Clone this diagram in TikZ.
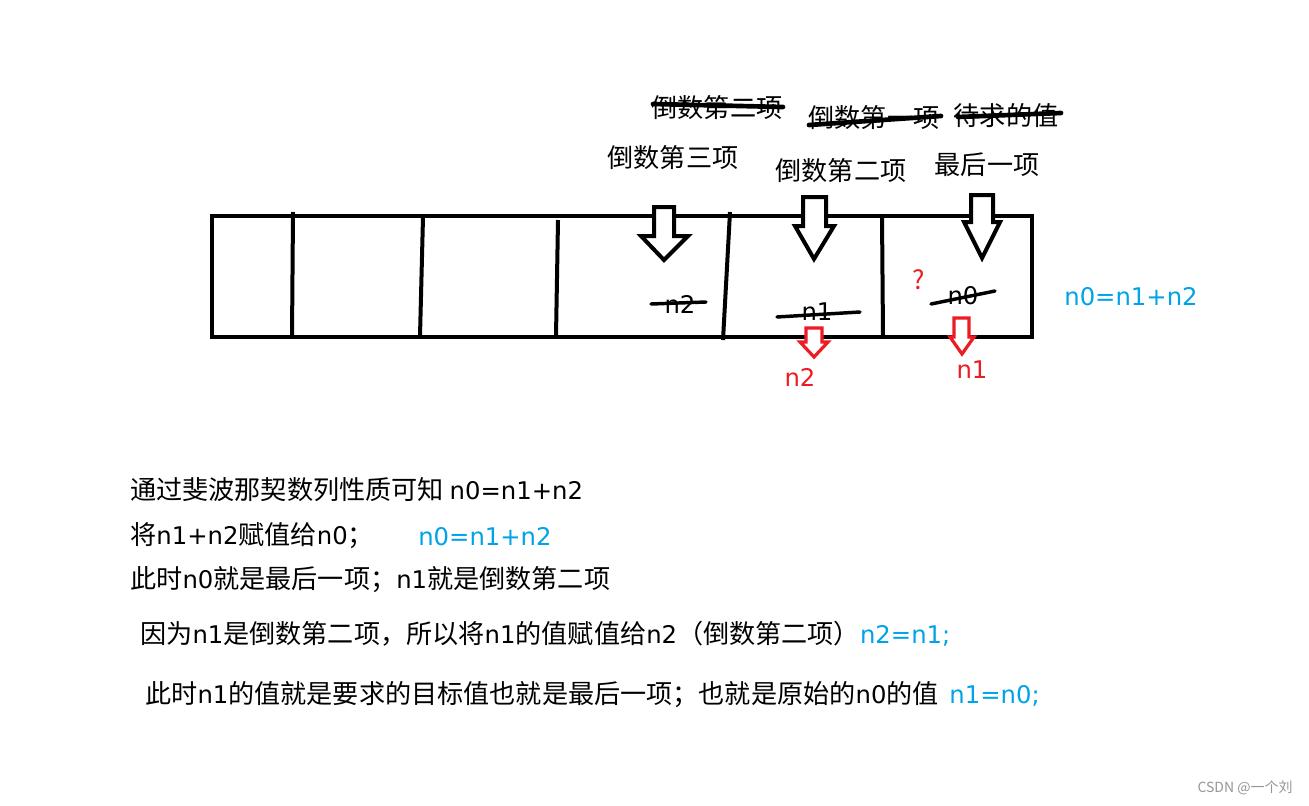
\documentclass[tikz,border=0pt]{standalone}
\usepackage{fontspec}
\setmainfont{Noto Sans CJK SC}
\newfontfamily\latfont{DejaVu Sans}[Scale=0.93]
\newcommand\latn[1]{{\latfont #1}}
\definecolor{pblue}{RGB}{0,162,232}
\definecolor{pred}{RGB}{237,28,36}
\definecolor{wgray}{RGB}{150,150,150}
\tikzset{
  px/.style={x=0.75pt,y=-0.75pt},
  lbl/.style={inner sep=0pt,font=\fontsize{19.6pt}{22pt}\selectfont},
  txt/.style={lbl,anchor=west},
  frame/.style={draw=black,line width=3pt},
  divider/.style={draw=black,line width=3pt},
  blockarrow/.style={draw=black,line width=3pt,line join=miter,fill=white},
  redarrow/.style={draw=pred,line width=2.4pt,line join=miter,fill=white},
  strike/.style={draw=black,line width=3.5pt,line cap=round},
  thinstrike/.style={draw=black,line width=2.6pt,line cap=round},
}
\begin{document}
\begin{tikzpicture}[px]
\useasboundingbox (0,0) rectangle (1309,806);
% array box
\draw[frame] (212,216) rectangle (1032,337);
\draw[divider] (293,212) -- (292,336);
\draw[divider] (423,217) -- (420,336);
\draw[divider] (558,220) -- (556,336);
\draw[divider] (730,212) -- (723,340);
\draw[divider] (882,216) -- (883,336);
% black block arrows
\draw[blockarrow] (654,207) -- (654,236) -- (641,236) -- (664,260) -- (688,236) -- (674,236) -- (674,207) -- cycle;
\draw[blockarrow] (803,197) -- (803,226) -- (795,226) -- (814,259) -- (834,226) -- (826,226) -- (826,197) -- cycle;
\draw[blockarrow] (971,195) -- (971,222) -- (964,222) -- (982,258) -- (1000,222) -- (993,222) -- (993,195) -- cycle;
% red small arrows
\draw[redarrow] (806,328) -- (806,342) -- (800,342) -- (814,357) -- (828,342) -- (822,342) -- (822,328) -- cycle;
\draw[redarrow] (954,318) -- (954,337) -- (950,337) -- (962,354) -- (974,337) -- (969,337) -- (969,318) -- cycle;
% labels above
\node[lbl] (s1) at (717,108) {倒数第二项};
\node[lbl] (s2) at (874,118) {倒数第一项};
\node[lbl] (s3) at (1006,116) {待求的值};
\draw[strike] (653,104) -- (783,107);
\draw[strike] (809,125) -- (941,116);
\draw[strike] (958,117) -- (1061,113);
\node[lbl] (l3) at (673,158) {倒数第三项};
\node[lbl] (l2) at (841,171) {倒数第二项};
\node[lbl] (l1) at (987,165) {最后一项};
% cell values
\node[lbl] (c2) at (680,304) {\latn{n2}};
\node[lbl] (c1) at (817,312) {\latn{n1}};
\node[lbl] (c0) at (963,296) {\latn{n0}};
\draw[thinstrike] (651,304) -- (706,302);
\draw[thinstrike] (777,317) -- (860,312);
\draw[thinstrike] (931,304) -- (995,291);
\node[lbl,text=pred,font=\fontsize{19.6pt}{22pt}\selectfont] (q) at (919,280) {?};
\node[lbl,text=pred] (r2) at (800,377) {\latn{n2}};
\node[lbl,text=pred] (r1) at (972,370) {\latn{n1}};
\node[lbl,text=pblue] (eq) at (1131,297) {\latn{n0=n1+n2}};
% explanation lines
\node[txt] (t1) at (130,490) {通过斐波那契数列性质可知 \latn{n0=n1+n2}};
\node[txt] (t2) at (130,536) {将\latn{n1+n2}赋值给\latn{n0}；};
\node[txt,text=pblue] (t2b) at (418,537) {\latn{n0=n1+n2}};
\node[txt] (t3) at (130,580) {此时\latn{n0}就是最后一项；\latn{n1}就是倒数第二项};
\node[txt] (t4) at (140,634) {因为\latn{n1}是倒数第二项，所以将\latn{n1}的值赋值给\latn{n2}（倒数第二项）\textcolor{pblue}{\latn{n2=n1;}}};
\node[txt] (t5) at (145,695) {此时\latn{n1}的值就是要求的目标值也就是最后一项；也就是原始的\latn{n0}的值\hspace{8pt}\textcolor{pblue}{\latn{n1=n0;}}};
\node[inner sep=0pt,text=wgray,font=\fontsize{10.5pt}{12pt}\selectfont] (wm) at (1245,788) {CSDN @一个刘};
\end{tikzpicture}
\end{document}
